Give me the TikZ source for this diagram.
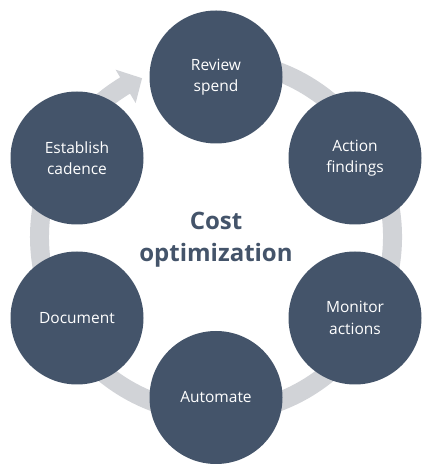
\documentclass[tikz,border=0pt]{standalone}
\usepackage{fontspec}
\setmainfont{Open Sans}
\definecolor{stepblue}{HTML}{44546A}
\definecolor{ringgray}{HTML}{D1D3D7}
\begin{document}
\begin{tikzpicture}[x=1pt,y=1pt,
  stepcircle/.style={circle, fill=stepblue, draw=none, minimum size=133pt, inner sep=0pt,
    text=white, align=center, font=\fontsize{15.5}{21.5}\selectfont},
  titletext/.style={text=stepblue, align=center, font=\bfseries\fontsize{24}{32}\selectfont}]
\useasboundingbox (0,0) rectangle (431,471);
\coordinate (c) at (216,234.2);
% ring with arrowhead
\begin{scope}[shift={(c)}]
\fill[ringgray] (100:186pt) arc[start angle=100, end angle=-239, radius=186pt]
  -- (-239:195pt) -- (-245:175pt) -- (-239:156pt) -- (-239:167pt)
  arc[start angle=-239, end angle=100, radius=167pt] -- cycle;
\end{scope}
\node[stepcircle] (rev) at (216,394) {Review\\spend};
\node[stepcircle] (act) at (355,313) {Action\\findings};
\node[stepcircle] (mon) at (355,153) {Monitor\\actions};
\node[stepcircle] (aut) at (216,73.5) {Automate};
\node[stepcircle] (doc) at (77,153) {Document};
\node[stepcircle] (est) at (77,313) {Establish\\cadence};
\node[titletext] (title) at (216,231) {Cost\\optimization};
\end{tikzpicture}
\end{document}
